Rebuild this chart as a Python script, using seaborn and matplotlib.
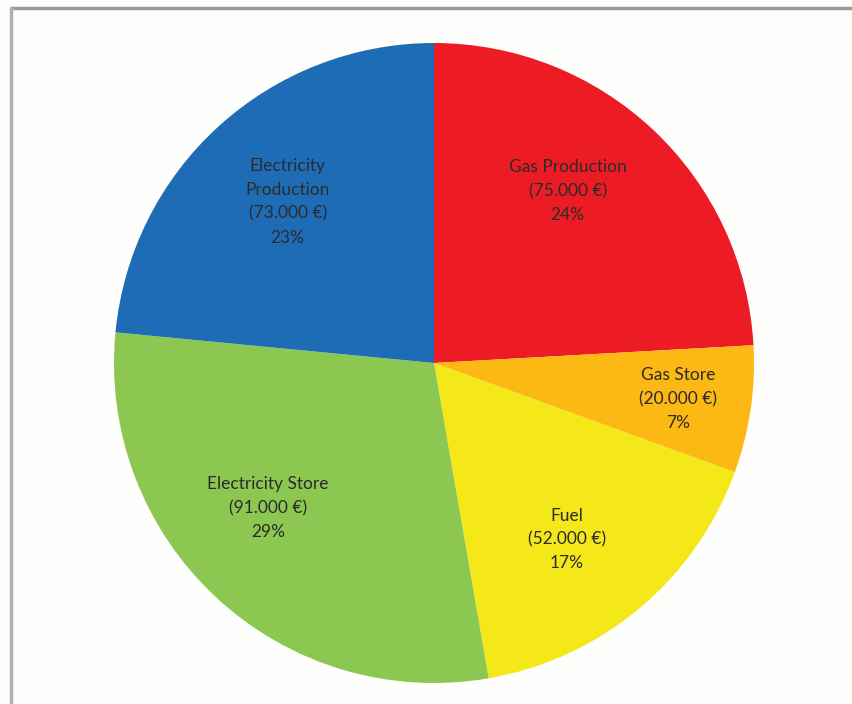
import matplotlib
matplotlib.use("Agg")
import numpy as np
import matplotlib.pyplot as plt
import seaborn as sns
from matplotlib.lines import Line2D

# Dados do gráfico
categorias = ["Gas Production", "Gas Store", "Fuel", "Electricity Store", "Electricity\nProduction"]
valores = [75000, 20000, 52000, 91000, 73000]
valores_txt = ["75.000 €", "20.000 €", "52.000 €", "91.000 €", "73.000 €"]
percentuais = ["24%", "7%", "17%", "29%", "23%"]
cores = ["#ED1C24", "#FDB913", "#F4E819", "#8CC751", "#1F6CB6"]

sns.set_theme(style="white")
plt.rcParams['font.family'] = ['Lato', 'DejaVu Sans']

fig = plt.figure(figsize=(8.53, 7.04), dpi=100)
fig.patch.set_facecolor("#FEFEFC")

# Moldura cinza (topo e esquerda)
fig.add_artist(Line2D([11 / 853, 1], [1 - 8 / 704, 1 - 8 / 704], color="#9A9A9A", lw=2.5))
fig.add_artist(Line2D([11 / 853, 11 / 853], [0, 1 - 8 / 704], color="#B0B0B0", lw=2.5))

cx, cy, r = 434, 363, 320
ax = fig.add_axes([(cx - r) / 853, (704 - cy - r) / 704, 2 * r / 853, 2 * r / 704])

rotulos = [f"{c}\n({v})\n{p}" for c, v, p in zip(categorias, valores_txt, percentuais)]
wedges, textos = ax.pie(valores, labels=rotulos, colors=cores, startangle=90,
                        counterclock=False, labeldistance=0.69,
                        wedgeprops={"linewidth": 0},
                        textprops={"fontsize": 12.5, "color": "#2B2B2B",
                                   "ha": "center", "va": "center",
                                   "linespacing": 1.6})

# ajuste fino da posição dos rótulos (distância relativa e desvio angular)
dist_rot = [0.68, 0.77, 0.69, 0.69, 0.68]
desvio_ang = [5.5, 0, -3, -6, 0]
for w, t, d, da in zip(wedges, textos, dist_rot, desvio_ang):
    ang = np.deg2rad((w.theta1 + w.theta2) / 2 + da)
    t.set_position((d * np.cos(ang), d * np.sin(ang)))
    t.set_horizontalalignment("center")
    t.set_multialignment("center")

ax.set_xlim(-1, 1)
ax.set_ylim(-1, 1)
ax.set_aspect("equal")
ax.axis("off")

plt.savefig("out.png", dpi=100, facecolor=fig.get_facecolor())
